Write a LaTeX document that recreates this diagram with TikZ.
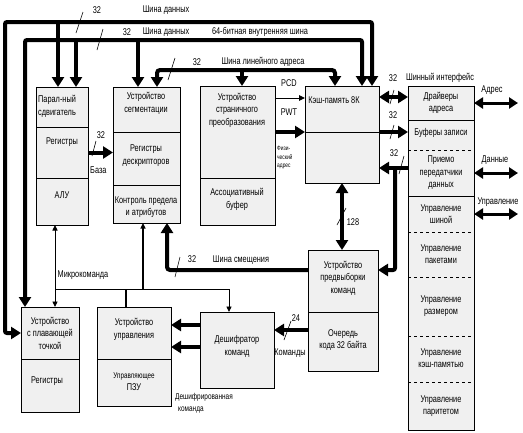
\documentclass[tikz,border=0pt]{standalone}
\usepackage{fontspec}
\setmainfont[FakeStretch=0.75]{Liberation Sans}
\usetikzlibrary{arrows.meta,calc}
\definecolor{boxfill}{RGB}{240,240,240}
\tikzset{
  Tb/.tip={Triangle[length=10pt,width=12pt]},
  Tm/.tip={Triangle[length=9pt,width=11pt]},
  Ts/.tip={Triangle[length=5.5pt,width=5pt]},
  box/.style={draw=black, line width=0.6pt, fill=boxfill, inner sep=0pt, outer sep=0pt, anchor=north west},
  sec/.style={inner sep=0pt, outer sep=0pt, anchor=north west},
  txt/.style={font=\fontsize{9.8}{12.5}\selectfont, align=center, inner sep=0pt},
  small/.style={font=\fontsize{8.6}{10}\selectfont, align=center, inner sep=0pt},
  tiny/.style={font=\fontsize{6.5}{8.5}\selectfont, align=left, inner sep=0pt},
  bus/.style={line width=4pt},
  ext/.style={line width=3pt, {Tm}-{Tm}},
  thinl/.style={line width=0.9pt},
  slash/.style={line width=0.6pt}
}
\begin{document}
\begin{tikzpicture}[x=1pt,y=-1pt]
\useasboundingbox (0,0) rectangle (523,432);

% ---------- boxes ----------
\node[box, minimum width=52pt, minimum height=40pt] (shift) at (36,87) {};
\node[box, minimum width=52pt, minimum height=51pt] (regs) at (36,127) {};
\node[box, minimum width=52pt, minimum height=47pt] (alu) at (36,178) {};

\node[box, minimum width=67pt, minimum height=45pt] (seg) at (113,87) {};
\node[box, minimum width=67pt, minimum height=53pt] (desc) at (113,132) {};
\node[box, minimum width=67pt, minimum height=38pt] (lim) at (113,185) {};

\node[box, minimum width=75pt, minimum height=92pt] (page) at (200,86) {};
\node[box, minimum width=75pt, minimum height=47pt] (tlb) at (200,178) {};

\node[box, minimum width=74pt, minimum height=97pt] (cache) at (305,86) {};

\node[box, minimum width=66pt, minimum height=344pt] (bif) at (408,86) {};
\node[sec, minimum width=66pt, minimum height=34pt] (b1) at (408,86) {};
\node[sec, minimum width=66pt, minimum height=30pt] (b2) at (408,120) {};
\node[sec, minimum width=66pt, minimum height=46pt] (b3) at (408,150) {};
\node[sec, minimum width=66pt, minimum height=36pt] (b4) at (408,196) {};
\node[sec, minimum width=66pt, minimum height=45pt] (b5) at (408,232) {};
\node[sec, minimum width=66pt, minimum height=59pt] (b6) at (408,277) {};
\node[sec, minimum width=66pt, minimum height=46pt] (b7) at (408,336) {};
\node[sec, minimum width=66pt, minimum height=48pt] (b8) at (408,382) {};
\draw[line width=0.6pt] (b1.south west) -- (b1.south east);
\draw[line width=0.6pt, dashed] (b2.south west) -- (b2.south east);
\draw[line width=0.6pt] (b3.south west) -- (b3.south east);
\draw[line width=0.9pt, dashed] (b4.south west) -- (b4.south east);
\draw[line width=0.9pt, dashed] (b5.south west) -- (b5.south east);
\draw[line width=0.9pt, dashed] (b6.south west) -- (b6.south east);
\draw[line width=0.9pt, dashed] (b7.south west) -- (b7.south east);

\node[box, minimum width=70pt, minimum height=62pt] (pref) at (308,250) {};
\node[box, minimum width=70pt, minimum height=59pt] (queue) at (308,312) {};

\node[box, minimum width=74pt, minimum height=76pt] (dec) at (200,312) {};

\node[box, minimum width=74pt, minimum height=52pt] (cu) at (97,307) {};
\node[box, minimum width=74pt, minimum height=47pt] (rom) at (97,359) {};

\node[box, minimum width=58pt, minimum height=52pt] (fpu) at (21,307) {};
\node[box, minimum width=58pt, minimum height=53pt] (fregs) at (21,359) {};

% ---------- box texts ----------
\node[txt, anchor=west, align=left] (t-shift) at (38,106.5) {Парал-ный\\сдвигатель};
\node[txt] (t-regs) at (62,142) {Регистры};
\node[txt] (t-alu) at (62,195) {АЛУ};
\node[txt] (t-seg) at (146,103.5) {Устройство\\сегментации};
\node[txt] (t-desc) at (146,155.5) {Регистры\\дескрипторов};
\node[txt] (t-lim) at (146,207) {Контроль предела\\и атрибутов};
\node[txt] (t-page) at (237,110) {Устройство\\страничного\\преобразования};
\node[txt] (t-tlb) at (237,199.5) {Ассоциативный\\буфер};
\node[txt] (t-cache) at (334,100) {Кэш-память 8К};
\node[txt] (t-b1) at (441,103) {Драйверы\\адреса};
\node[txt] (t-b2) at (441,133) {Буферы записи};
\node[txt] (t-b3) at (441,173) {Приемо\\передатчики\\данных};
\node[txt] (t-b4) at (441,214) {Управление\\шиной};
\node[txt] (t-b5) at (441,254) {Управление\\пакетами};
\node[txt] (t-b6) at (441,306) {Управление\\размером};
\node[txt] (t-b7) at (441,358) {Управление\\кэш-памятью};
\node[txt] (t-b8) at (441,406) {Управление\\паритетом};
\node[txt] (t-pref) at (343,278) {Устройство\\предвыборки\\команд};
\node[txt] (t-queue) at (343,340) {Очередь\\кода 32 байта};
\node[txt] (t-dec) at (237,346.5) {Дешифратор\\команд};
\node[txt] (t-cu) at (134,329.5) {Устройство\\управления};
\node[txt] (t-rom) at (134,381.5) {{\fontsize{8.4}{10}\selectfont Управляющее}\\ПЗУ};
\node[txt] (t-fpu) at (50,333) {Устройство\\с плавающей\\точкой};
\node[txt] (t-fregs) at (47,381) {Регистры};

% ---------- helper coordinates ----------
\coordinate (LA) at (5,22);
\coordinate (RA) at (372,22);
\coordinate (LB) at (25,40);
\coordinate (RB) at (362,40);
\coordinate (LC) at (157,70);
\coordinate (RC) at (335,70);
\coordinate (xa1) at (58,22);
\coordinate (xb1) at (76,40);
\coordinate (xb2) at (138,40);
\coordinate (xc1) at (242,70);
\coordinate (jd) at (395,168);
\coordinate (xs) at (167,270);
\coordinate (m1) at (55,289);
\coordinate (m2) at (229,289);
\coordinate (m3) at (143,289);
\coordinate (m4) at (126,289);
\coordinate (ex) at (518,0);

% ---------- buses ----------
\draw[bus, rounded corners=2pt, {Tb}-{Tb}] (fpu.west) -| (LA) -- (RA) -- (RA |- cache.north);
\draw[bus, -{Tb}] (xa1) -- (xa1 |- shift.north);
\draw[bus, rounded corners=2pt, {Tb}-{Tb}] (LB |- fpu.north) -- (LB) -- (RB) -- (RB |- cache.north);
\draw[bus, -{Tb}] (xb1) -- (xb1 |- shift.north);
\draw[bus, -{Tb}] (xb2) -- (xb2 |- seg.north);
\draw[bus, rounded corners=3pt, {Tb}-{Tb}] (LC |- seg.north) -- (LC) -- (RC) -- (RC |- cache.north);
\draw[bus, -{Tb}] (xc1) -- (xc1 |- page.north);

% cache <-> bus interface
\draw[bus, {Tb}-{Tb}] (cache.east |- 0,97) -- (b1.west |- 0,97);
\draw[line width=0.8pt] (cache.west |- 0,132) -- (cache.east |- 0,132);
\draw[bus, -{Tb}] (cache.east |- 0,132) -- (b2.west |- 0,132);
\draw[bus, -{Tb}] (b3.west |- jd) -- (cache.east |- jd);
\draw[bus, rounded corners=2pt, -{Tb}] (jd) |- (pref.east |- 0,270);

% paging -> cache
\draw[thinl, -{Triangle[length=6pt,width=5.5pt]}] (page.east |- 0,98) -- (cache.west |- 0,98);
\draw[bus, -{Tb}] (page.east |- 0,132) -- (cache.west |- 0,132);

% base
\draw[bus, -{Tb}] (regs.east) -- (regs.east -| desc.west);

% cache <-> prefetch
\draw[bus, {Tb}-{Tb}] (cache.south) -- (cache.south |- pref.north);

% displacement bus
\draw[bus, rounded corners=3pt, -{Tb}] (pref.west |- xs) -- (xs) -- (xs |- lim.south);

% queue -> decoder
\draw[bus, -{Tb}] (queue.west |- 0,330) -- (dec.east |- 0,330);

% decoder -> control unit
\draw[bus, -{Tb}] (dec.west |- 0,325) -- (cu.east |- 0,325);
\draw[bus, -{Tb}] (dec.west |- 0,347) -- (cu.east |- 0,347);

% microinstruction bus
\draw[thinl, {Ts}-{Ts}] (m1 |- alu.south) -- (m1 |- fpu.north);
\draw[thinl] (m1) -- (m2);
\draw[line width=1.4pt, -{Ts}] (m3) -- (m3 |- lim.south);
\draw[line width=1.8pt] (m4) -- (m4 |- cu.north);
\draw[thinl, -{Ts}] (m2) -- (m2 |- dec.north);

% external
\draw[ext] (b1.east) -- (b1.east -| ex);
\draw[ext] (b3.east) -- (b3.east -| ex);
\draw[ext] (b4.east) -- (b4.east -| ex);

% ---------- slashes ----------
\draw[slash] (83,12) -- (76,33);
\draw[slash] (103,29) -- (97,50);
\draw[slash] (175,58) -- (168,80);
\draw[slash] (96,141) -- (92,156);
\draw[slash] (394,90) -- (390,104);
\draw[slash] (394,125) -- (390,139);
\draw[slash] (404,156) -- (399,174);
\draw[slash] (346,208) -- (337,225);
\draw[slash] (180,257) -- (175,277);
\draw[slash] (291,321) -- (284,340);

% ---------- labels ----------
\node[txt] (l32a) at (97,10) {32};
\node[txt] (lbusA) at (166,10) {Шина данных};
\node[txt] (l32b) at (127,32) {32};
\node[txt] (lbusB) at (166,32) {Шина данных};
\node[txt] (l64) at (260,32) {64-битная внутренняя шина};
\node[txt] (l32c) at (197,62) {32};
\node[txt] (lbusC) at (263,62) {Шина линейного адреса};
\node[txt] (l32base) at (101,135) {32};
\node[txt, anchor=west] (lbase) at (90,170) {База};
\node[txt] (lpcd) at (289,83) {PCD};
\node[txt] (lpwt) at (289,112) {PWT};
\node[tiny, anchor=north west] (lphys) at (277,146) {Физи-\\ческий\\адрес};
\node[txt] (lbif) at (440,78) {Шинный интерфейс};
\node[txt] (l32d) at (393,78) {32};
\node[txt] (l32e) at (393,115) {32};
\node[txt] (l32f) at (394,153) {32};
\node[txt] (ladr) at (492,90) {Адрес};
\node[txt] (ldata) at (495,160) {Данные};
\node[txt] (lctl) at (498,202) {Управление};
\node[txt] (l128) at (353,222) {128};
\node[txt] (l32g) at (192,259) {32};
\node[txt] (lsm) at (241,260) {Шина смещения};
\node[txt] (lmicro) at (83,275) {Микрокоманда};
\node[txt] (l24) at (296,318) {24};
\node[txt] (lcmd) at (290,353) {Команды};
\node[small, anchor=west] (ldec1) at (175,397) {Дешифрированная};
\node[small, anchor=west] (ldec2) at (178,410) {команда};
\end{tikzpicture}
\end{document}
